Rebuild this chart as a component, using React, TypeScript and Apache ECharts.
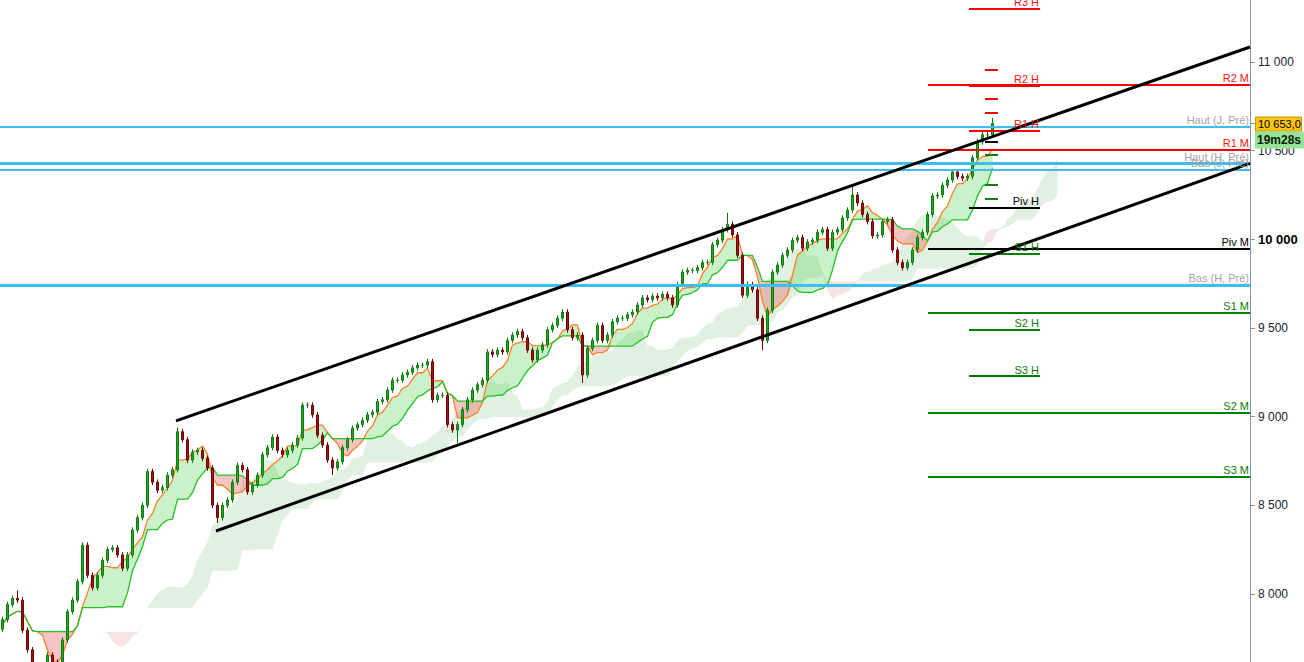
import React, { useEffect, useRef } from "react";
import * as echarts from "echarts";

// ---- Data ----
const closes: number[] = [
  7855, 7940, 7975, 7965, 7795, 7685, 7580, 7570, 7600, 7655,
  7615, 7580, 7740, 7900, 7965, 8070, 8275, 8105, 8035, 8105,
  8190, 8250, 8260, 8220, 8145, 8220, 8360, 8430, 8500, 8690,
  8630, 8585, 8600, 8670, 8700, 8915, 8870, 8755, 8800, 8810,
  8765, 8710, 8500, 8430, 8500, 8530, 8630, 8725, 8700, 8575,
  8615, 8670, 8785, 8825, 8885, 8810, 8785, 8810, 8840, 8880,
  9065, 9065, 9010, 8895, 8840, 8755, 8710, 8745, 8825, 8870,
  8935, 8955, 8980, 9010, 9025, 9085, 9095, 9150, 9205, 9205,
  9235, 9250, 9275, 9290, 9290, 9310, 9095, 9120, 9120, 8955,
  8925, 8955, 9040, 9095, 9150, 9180, 9205, 9365, 9350, 9375,
  9365, 9430, 9460, 9480, 9445, 9375, 9320, 9375, 9405, 9490,
  9515, 9555, 9590, 9490, 9445, 9460, 9235, 9385, 9430, 9515,
  9430, 9460, 9535, 9555, 9555, 9575, 9590, 9630, 9670, 9660,
  9680, 9670, 9690, 9670, 9630, 9745, 9815, 9825, 9825, 9840,
  9870, 9870, 9970, 9995, 10055, 10085, 10025, 9910, 9685, 9745,
  9715, 9555, 9430, 9600, 9815, 9855, 9910, 9940, 9995, 10010,
  9950, 9985, 9995, 10040, 10055, 9950, 10040, 10055, 10120, 10165,
  10250, 10205, 10140, 10100, 10020, 10025, 10100, 10110, 9940, 9870,
  9840, 9870, 9940, 10010, 10040, 10140, 10245, 10250, 10305, 10335,
  10380, 10355, 10345, 10355, 10460, 10550, 10590, 10590, 10653,
];
const firstOpen = 7800;
const highOverrides: Record<number, number> = { 3: 8020, 35: 8940, 145: 10150, 170: 10295, 198: 10685 };
const lowOverrides: Record<number, number> = { 43: 8400, 66: 8670, 91: 8850, 116: 9190, 152: 9375 };
const WICK = 16;

const yTicks = [8000, 8500, 9000, 9500, 10000, 10500, 11000];
const Y_MIN = 7616;
const Y_MAX = 11350;
const TOTAL_SLOTS = 250;
const lastPriceText = "10 653,0";
const timerText = "19m28s";

// previous high / low levels (blue)
const blueNames = ["Haut (J, Pré)", "Haut (H, Pré)", "Bas (J, Pré)", "Bas (H, Pré)"];
const blueValues = [10636, 10429, 10395, 9743];
const blueWidths = [2, 3, 2, 3];

// weekly pivots (H)
const hNames = ["R3 H", "R2 H", "R1 H", "Piv H", "S1 H", "S2 H", "S3 H"];
const hValues = [11301, 10865, 10613, 10177, 9919, 9489, 9229];
// monthly pivots (M)
const mNames = ["R2 M", "R1 M", "Piv M", "S1 M", "S2 M", "S3 M"];
const mValues = [10871, 10506, 9946, 9585, 9022, 8661];
// daily pivot dashes
const dNames = ["R3", "R2", "R1", "Piv", "S1", "S2", "S3"];
const dValues = [10957, 10793, 10714, 10549, 10476, 10308, 10229];

// channel lines [x in slot units, price]
const upperChannel = [[35.2, 8976], [250, 11085]];
const lowerChannel = [[43.2, 8355], [250, 10428]];

const TENKAN = 5;
const KIJUN = 13;
const SENKOU_B = 30;
const SHIFT = 13;

const colorFor = (name: string) =>
  name.startsWith("R") ? "#ff0000" : name.startsWith("P") ? "#000000" : "#008000";
const labelColorFor = (name: string) =>
  name.startsWith("R") ? "#ff1010" : name.startsWith("P") ? "#000000" : "#0a7a0a";

const fmt = (v: number) => String(Math.round(v)).replace(/\B(?=(\d{3})+(?!\d))/g, " ");

export default function App() {
  const ref = useRef<HTMLDivElement>(null);

  useEffect(() => {
    document.body.style.margin = "0";
    if (!ref.current) return;
    const chart = echarts.init(ref.current, undefined, { renderer: "svg" });

    const n = closes.length;
    const opens = closes.map((c, i) => (i === 0 ? firstOpen : closes[i - 1]));
    const highs = closes.map((c, i) => highOverrides[i] ?? Math.max(opens[i], c) + WICK);
    const lows = closes.map((c, i) => lowOverrides[i] ?? Math.min(opens[i], c) - WICK);

    const mid = (i: number, p: number) => {
      let hi = -Infinity;
      let lo = Infinity;
      for (let j = Math.max(0, i - p + 1); j <= i; j++) {
        hi = Math.max(hi, highs[j]);
        lo = Math.min(lo, lows[j]);
      }
      return (hi + lo) / 2;
    };

    const tenkan: (number | null)[] = new Array(TOTAL_SLOTS).fill(null);
    const kijun: (number | null)[] = new Array(TOTAL_SLOTS).fill(null);
    const spanA: (number | null)[] = new Array(TOTAL_SLOTS).fill(null);
    const spanB: (number | null)[] = new Array(TOTAL_SLOTS).fill(null);
    for (let i = 0; i < n; i++) {
      tenkan[i] = mid(i, TENKAN);
      kijun[i] = mid(i, KIJUN);
      if (i + SHIFT < TOTAL_SLOTS) {
        spanA[i + SHIFT] = ((tenkan[i] as number) + (kijun[i] as number)) / 2;
        spanB[i + SHIFT] = mid(i, SENKOU_B);
      }
    }

    const band = (a: (number | null)[], b: (number | null)[], upColor: string, dnColor: string, stack: string, z: number) => {
      const ok = (k: number) => a[k] != null && b[k] != null;
      const base = a.map((v, k) => (ok(k) ? Math.min(v as number, b[k] as number) : "-"));
      const up = a.map((v, k) => (ok(k) ? Math.max(0, (v as number) - (b[k] as number)) : "-"));
      const dn = a.map((v, k) => (ok(k) ? Math.max(0, (b[k] as number) - (v as number)) : "-"));
      const common = {
        type: "line",
        stack,
        stackStrategy: "all",
        symbol: "none",
        silent: true,
        xAxisIndex: 0,
        yAxisIndex: 0,
        z,
        lineStyle: { width: 0, opacity: 0 },
      };
      return [
        { ...common, data: base },
        { ...common, data: up, areaStyle: { color: upColor, opacity: 1 } },
        { ...common, data: dn, areaStyle: { color: dnColor, opacity: 1 } },
      ];
    };

    const cats = Array.from({ length: TOTAL_SLOTS }, (_, i) => String(i));
    const candleData = closes.map((c, i) => [opens[i], c, lows[i], highs[i]]);

    const labelBase = { fontSize: 11, fontFamily: "'Liberation Sans', Arial, sans-serif", distance: 1 };
    const seg = (x1: number, x2: number, v: number, color: string, width: number, text?: string, labelColor?: string) => [
      {
        coord: [x1, v],
        lineStyle: { color, width, type: "solid", opacity: 1 },
        label: text
          ? { show: true, formatter: text, position: "insideEndTop", color: labelColor, ...labelBase }
          : { show: false },
      },
      { coord: [x2, v] },
    ];

    const levelLines: any[] = [];
    blueValues.forEach((v, k) => levelLines.push(seg(0, 250, v, "#3dbdf5", blueWidths[k], blueNames[k], "#a3a3a3")));
    mValues.forEach((v, k) => levelLines.push(seg(185.6, 250, v, colorFor(mNames[k]), 2, mNames[k], labelColorFor(mNames[k]))));
    hValues.forEach((v, k) => levelLines.push(seg(193.8, 208, v, colorFor(hNames[k]), 2, hNames[k], labelColorFor(hNames[k]))));
    dValues.forEach((v, k) => levelLines.push(seg(197, 199.6, v, colorFor(dNames[k]), 2)));

    const channelLines = [upperChannel, lowerChannel].map((c) => [
      { coord: c[0], lineStyle: { color: "#000", width: 3, type: "solid" }, label: { show: false } },
      { coord: c[1] },
    ]);

    const option: any = {
      animation: false,
      backgroundColor: "#ffffff",
      grid: { left: 0, right: 54, top: 0, bottom: 0, containLabel: false },
      xAxis: [
        { type: "category", data: cats, boundaryGap: true, show: false },
        { type: "value", min: 0, max: 250, show: false },
      ],
      yAxis: [
        {
          type: "value",
          position: "right",
          min: Y_MIN,
          max: Y_MAX,
          scale: true,
          splitLine: { show: false },
          axisLine: { show: true, onZero: false, lineStyle: { color: "#8595a5", width: 1 } },
          axisTick: { show: true, length: 5, lineStyle: { color: "#8595a5" }, customValues: yTicks },
          axisLabel: {
            customValues: yTicks,
            margin: 8,
            color: "#1a2533",
            fontSize: 12,
            fontFamily: "'Liberation Sans', Arial, sans-serif",
            formatter: (v: number) => (v === 10000 ? "{b|" + fmt(v) + "}" : fmt(v)),
            rich: { b: { fontWeight: "bold", fontSize: 13, color: "#000", fontFamily: "'Liberation Sans', Arial, sans-serif" } },
          },
        },
      ],
      series: [
        ...band(spanA, spanB, "rgba(120,190,120,0.22)", "rgba(210,120,120,0.2)", "kumo", 1),
        ...band(tenkan, kijun, "rgba(80,210,80,0.3)", "rgba(225,90,90,0.35)", "tk", 2),
        {
          type: "line",
          data: tenkan.map((v) => (v == null ? "-" : v)),
          symbol: "none",
          z: 3,
          silent: true,
          lineStyle: { color: "#ff7f27", width: 1.3 },
        },
        {
          type: "line",
          data: kijun.map((v) => (v == null ? "-" : v)),
          symbol: "none",
          z: 3,
          silent: true,
          lineStyle: { color: "#22c322", width: 1.3 },
        },
        {
          type: "candlestick",
          data: candleData,
          barWidth: 3,
          z: 4,
          itemStyle: {
            color: "#1faa1f",
            color0: "#a31212",
            borderColor: "#0f7a0f",
            borderColor0: "#6e0505",
            borderWidth: 1,
          },
        },
        {
          type: "line",
          xAxisIndex: 1,
          yAxisIndex: 0,
          data: [[0, Y_MIN]],
          symbol: "none",
          lineStyle: { width: 0, opacity: 0 },
          z: 5,
          silent: true,
          markLine: { symbol: ["none", "none"], silent: true, animation: false, data: levelLines },
        },
        {
          type: "line",
          xAxisIndex: 1,
          yAxisIndex: 0,
          data: [[0, Y_MIN]],
          symbol: "none",
          lineStyle: { width: 0, opacity: 0 },
          z: 6,
          silent: true,
          markLine: { symbol: ["none", "none"], silent: true, animation: false, data: channelLines },
        },
      ],
    };

    chart.setOption(option);

    const lastClose = closes[closes.length - 1];
    const py = chart.convertToPixel({ yAxisIndex: 0 }, lastClose) as number;
    chart.setOption({
      graphic: [
        { type: "line", shape: { x1: 1250, y1: py, x2: 1256, y2: py }, style: { stroke: "#8595a5", lineWidth: 1 }, z: 20 },
        {
          type: "rect",
          shape: { x: 1255.5, y: py - 6.5, width: 46, height: 14 },
          style: { fill: "#fcc514", stroke: "#c99200", lineWidth: 1 },
          z: 20,
        },
        {
          type: "text",
          x: 1258,
          y: py + 0.5,
          style: {
            text: lastPriceText,
            fill: "#000",
            font: "11px 'Liberation Sans', Arial, sans-serif",
            verticalAlign: "middle",
            align: "left",
          },
          z: 21,
        },
        {
          type: "rect",
          shape: { x: 1255, y: py + 8, width: 49, height: 17 },
          style: { fill: "#96e396" },
          z: 20,
        },
        {
          type: "text",
          x: 1257,
          y: py + 16.5,
          style: {
            text: timerText,
            fill: "#0a1a0a",
            font: "bold 12px 'Liberation Sans', Arial, sans-serif",
            verticalAlign: "middle",
            align: "left",
          },
          z: 21,
        },
      ],
    });

    return () => chart.dispose();
  }, []);

  return <div ref={ref} style={{ width: 1304, height: 662 }} />;
}
